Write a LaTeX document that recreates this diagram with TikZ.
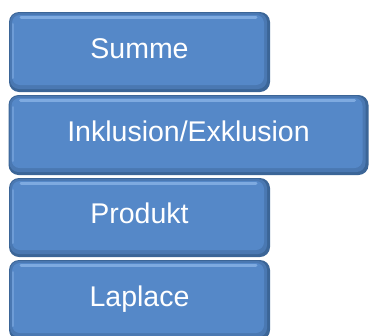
\documentclass[tikz,border=0pt]{standalone}
\usepackage{fontspec}
\setmainfont{Liberation Sans}
\definecolor{faceblue}{HTML}{5588C8}
\definecolor{edgeblue}{HTML}{3B6597}
\definecolor{litblue}{HTML}{7EAAE0}
\definecolor{shadeblue}{HTML}{4A78B2}
\tikzset{
  bevelbox/.style={
    rectangle, rounded corners=10pt, fill=edgeblue, draw=none,
    text=white, font=\fontsize{28.5}{30}\selectfont,
    text height=21pt, text depth=9pt, inner sep=0pt,
    path picture={
      \fill[shadeblue, rounded corners=9pt]
        ([xshift=1pt,yshift=-1pt]path picture bounding box.north west) rectangle
        ([xshift=-3pt,yshift=3pt]path picture bounding box.south east);
      \fill[faceblue, rounded corners=8pt]
        ([xshift=3pt,yshift=-3pt]path picture bounding box.north west) rectangle
        ([xshift=-6pt,yshift=7pt]path picture bounding box.south east);
      \draw[litblue, line width=3pt, line cap=round]
        ([xshift=12pt,yshift=-5pt]path picture bounding box.north west) --
        ([xshift=-14pt,yshift=-5pt]path picture bounding box.north east);
      \draw[litblue!60!faceblue, line width=2pt, line cap=round]
        ([xshift=4pt,yshift=-12pt]path picture bounding box.north west) --
        ([xshift=4pt,yshift=14pt]path picture bounding box.south west);
    }
  }
}
\begin{document}
\begin{tikzpicture}[x=1pt,y=-1pt]
\useasboundingbox (0,0) rectangle (369,335);
\clip (0,0) rectangle (369,335);
\node[bevelbox, minimum width=261pt, minimum height=80pt] (summe) at (139.5,52) {Summe};
\node[bevelbox, minimum width=360pt, minimum height=80pt] (inkl) at (188.5,135) {Inklusion/Exklusion};
\node[bevelbox, minimum width=261pt, minimum height=79pt] (prod) at (139.5,217.5) {Produkt};
\node[bevelbox, minimum width=261pt, minimum height=80pt] (lap) at (139.5,300) {Laplace};
\end{tikzpicture}
\end{document}
